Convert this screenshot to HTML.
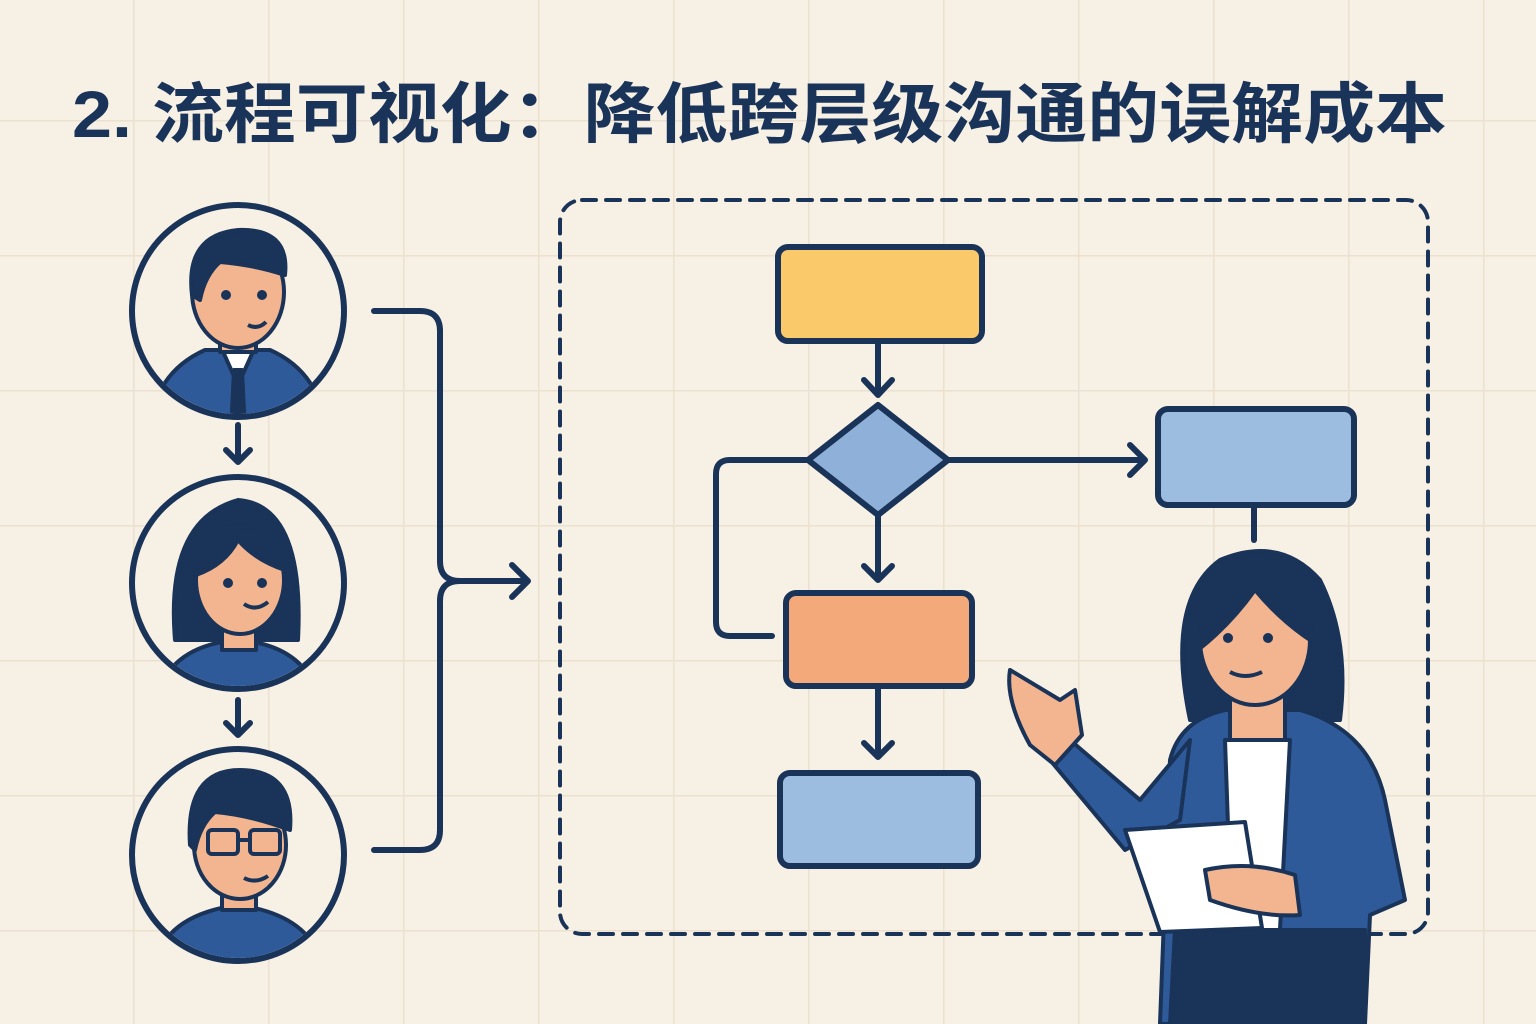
<!DOCTYPE html>
<html><head><meta charset="utf-8"><style>
html,body{margin:0;padding:0;width:1536px;height:1024px;overflow:hidden;background:#f7f0e4}
</style></head><body>
<svg width="1536" height="1024" viewBox="0 0 1536 1024" xmlns="http://www.w3.org/2000/svg">
<defs>
<pattern id="g" x="133" y="120" width="135" height="135" patternUnits="userSpaceOnUse">
<path d="M0 0V135M0 0H135" stroke="#ebe1cf" stroke-width="3" fill="none"/>
</pattern>
</defs>
<rect width="1536" height="1024" fill="#f7f0e4"/>
<rect width="1536" height="1024" fill="url(#g)"/>
<text x="72" y="137" font-family="Liberation Sans, Noto Sans CJK SC, sans-serif" font-weight="bold" font-size="66" fill="#1a3358" textLength="1375" lengthAdjust="spacingAndGlyphs">2. 流程可视化：降低跨层级沟通的误解成本</text>

<g stroke="#1a3358" stroke-width="6" fill="none" stroke-linecap="round" stroke-linejoin="round">
<!-- people circles -->
<circle cx="238" cy="311" r="106" fill="#f7f0e4"/>
<circle cx="238" cy="583" r="106" fill="#f7f0e4"/>
<circle cx="238" cy="855" r="106" fill="#f7f0e4"/>
<path d="M238 425V462M226 450L238 462L250 450"/>
<path d="M238 700V735M226 723L238 735L250 723"/>
<!-- bracket -->
<path d="M374 311H420Q440 311 440 331V561Q440 581 460 581Q440 581 440 601V830Q440 850 420 850H374"/>
<path d="M450 581H528M512 565L528 581L512 597"/>
<!-- dashed box -->
<rect x="560" y="200" width="868" height="734" rx="22" stroke-width="4" stroke-dasharray="14 10"/>
<!-- flow -->
<rect x="778" y="247" width="204" height="94" rx="10" fill="#f9c96a"/>
<path d="M878 341V395M864 380L878 395L892 380"/>
<path d="M878 405L948 460L878 515L808 460Z" fill="#8fb0d8"/>
<path d="M948 460H1145M1130 445L1145 460L1130 475"/>
<rect x="1158" y="409" width="196" height="96" rx="10" fill="#9dbde0"/>
<path d="M1254 505V540"/>
<path d="M878 515V580M864 566L878 580L892 566"/>
<path d="M808 460H730Q716 460 716 474V622Q716 636 730 636H772"/>
<rect x="786" y="593" width="186" height="93" rx="10" fill="#f3a97a"/>
<path d="M878 686V757M864 743L878 757L892 743"/>
<rect x="780" y="773" width="198" height="93" rx="10" fill="#9dbde0"/>
</g>

<!-- person 1 -->
<g stroke="#1a3358" stroke-width="4" stroke-linejoin="round">
<clipPath id="c1"><circle cx="238" cy="311" r="103"/></clipPath>
<g clip-path="url(#c1)">
<path d="M150 420Q160 370 205 350L270 350Q315 370 325 420Z" fill="#2f5a9a"/>
<path d="M220 345L238 385L256 345Z" fill="#fff"/>
<path d="M234 370L242 370L244 412L232 412Z" fill="#1a3358"/>
<path d="M220 330V352H256V330Z" fill="#f2b58f"/>
<ellipse cx="238" cy="292" rx="46" ry="56" fill="#f2b58f"/>
<path d="M192 295Q185 235 238 230Q290 228 285 275Q255 265 220 262Q205 275 200 300Z" fill="#1a3358"/>
<circle cx="226" cy="295" r="3" fill="#1a3358"/><circle cx="262" cy="295" r="3" fill="#1a3358"/>
<path d="M248 325Q258 330 266 322" fill="none"/>
</g>
<!-- person 2 -->
<clipPath id="c2"><circle cx="238" cy="583" r="103"/></clipPath>
<g clip-path="url(#c2)">
<path d="M175 640Q165 520 238 500Q305 505 298 640Z" fill="#1a3358"/>
<path d="M155 700Q170 645 238 640Q305 645 320 700Z" fill="#2f5a9a"/>
<path d="M222 620V650H256V620Z" fill="#f2b58f"/>
<ellipse cx="240" cy="580" rx="44" ry="54" fill="#f2b58f"/>
<path d="M196 575Q200 528 240 526Q280 528 285 570Q255 560 238 540Q225 565 196 575Z" fill="#1a3358"/>
<circle cx="228" cy="583" r="3" fill="#1a3358"/><circle cx="262" cy="583" r="3" fill="#1a3358"/>
<path d="M244 604Q256 612 268 602" fill="none"/>
</g>
<!-- person 3 -->
<clipPath id="c3"><circle cx="238" cy="855" r="103"/></clipPath>
<g clip-path="url(#c3)">
<path d="M155 965Q165 915 238 905Q310 915 322 965Z" fill="#2f5a9a"/>
<path d="M222 880V910H256V880Z" fill="#f2b58f"/>
<ellipse cx="240" cy="845" rx="46" ry="54" fill="#f2b58f"/>
<path d="M190 845Q185 770 240 770Q295 770 290 830Q250 815 215 812Q200 825 195 850Z" fill="#1a3358"/>
<rect x="208" y="830" width="30" height="24" rx="4" fill="none"/><rect x="250" y="830" width="30" height="24" rx="4" fill="none"/>
<path d="M238 840H250" fill="none"/>
<path d="M244 878Q256 884 268 876" fill="none"/>
</g>
</g>

<!-- presenter -->
<g stroke="#1a3358" stroke-width="4" stroke-linejoin="round">
<path d="M1190 720Q1165 600 1220 560Q1280 535 1320 580Q1350 640 1340 720Z" fill="#1a3358"/>
<path d="M1160 1024L1170 760Q1180 720 1225 710L1300 710Q1370 730 1385 800L1405 900L1370 915L1365 1024Z" fill="#2f5a9a"/>
<path d="M1225 740L1290 740L1275 1024H1235Z" fill="#fff"/>
<path d="M1170 1024L1175 930L1365 930L1365 1024Z" fill="#1a3358"/>
<path d="M1230 690V740H1285V690Z" fill="#f2b58f"/>
<ellipse cx="1255" cy="640" rx="55" ry="65" fill="#f2b58f"/>
<path d="M1198 650Q1190 565 1255 565Q1315 570 1310 640Q1280 620 1255 590Q1230 625 1198 650Z" fill="#1a3358"/>
<circle cx="1228" cy="638" r="3" fill="#1a3358"/><circle cx="1268" cy="638" r="3" fill="#1a3358"/>
<path d="M1230 672Q1245 680 1262 672" fill="none"/>
<path d="M1190 740L1140 800L1070 740L1050 760L1125 850L1180 820Z" fill="#2f5a9a"/>
<path d="M1030 745Q1005 700 1010 670L1060 700L1075 690L1082 735L1055 765Z" fill="#f2b58f"/>
<path d="M1125 830L1245 822L1262 928L1160 932Z" fill="#fff"/>
<path d="M1205 870Q1250 860 1295 875L1300 915Q1260 918 1210 900Z" fill="#f2b58f"/>
</g>
</svg>
</body></html>
